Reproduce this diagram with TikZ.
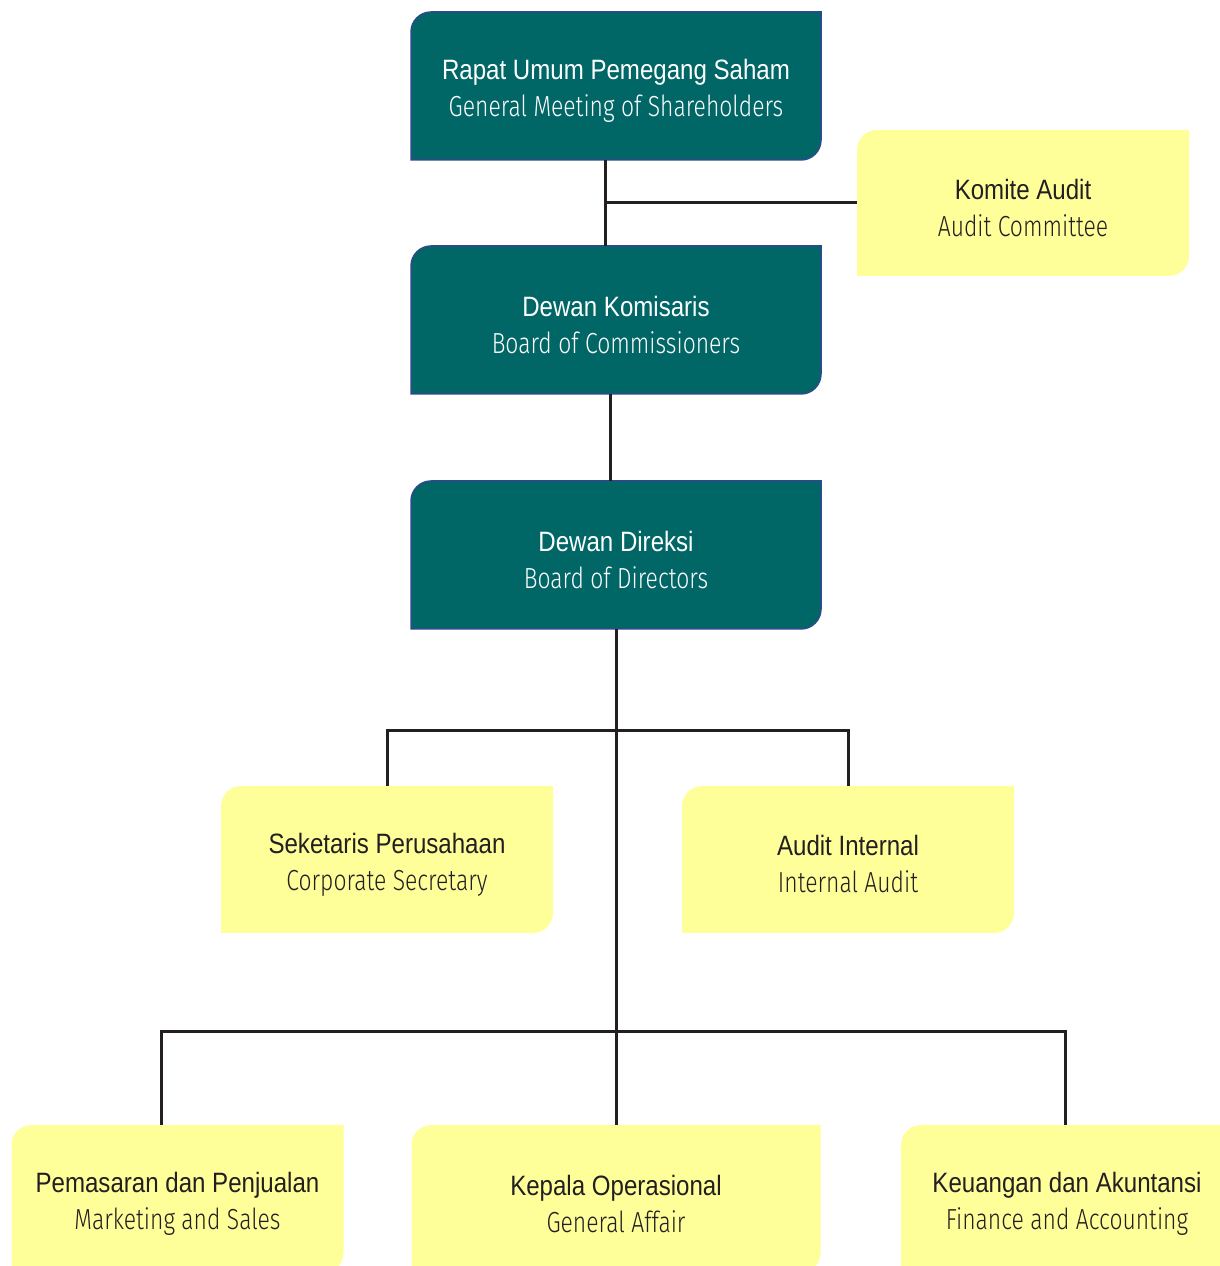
\documentclass[tikz,border=0pt]{standalone}
\usepackage{fontspec}
\setmainfont[FakeStretch=0.86]{Liberation Sans}
\newfontfamily\lightfont[FakeStretch=0.79]{Fira Sans Light}
\usepackage{tikz}
\usetikzlibrary{backgrounds}
\definecolor{tealfill}{RGB}{0,102,102}
\definecolor{tealedge}{RGB}{46,74,140}
\definecolor{paleyellow}{RGB}{255,255,153}
\definecolor{inkline}{RGB}{35,31,32}
\newcommand{\orgshape}[2]{%
  \path[#1] (#2.south west) -- ([yshift=-20pt]#2.north west)
    arc[start angle=180, end angle=90, radius=20pt] -- (#2.north east)
    -- ([yshift=20pt]#2.south east)
    arc[start angle=0, end angle=-90, radius=20pt] -- cycle;}
\newcommand{\orgtext}[2]{\rule{0pt}{30pt}#1\\{\lightfont\fontsize{29}{37}\selectfont #2}}

\begin{document}
\begin{tikzpicture}[x=1pt, y=1pt,
    box/.style={inner sep=0pt, outer sep=0pt, align=center, font=\fontsize{28}{37}\selectfont},
    board/.style={box, minimum width=410pt, minimum height=148pt, text=white},
    unit/.style={box, minimum width=332pt, minimum height=147pt, text=inkline},
    link/.style={draw=inkline, line width=3pt}]
                  \useasboundingbox (0, 0) rectangle (1219, 1266);

                  \node[board] (rups) at (616, 1180) {\orgtext{Rapat Umum Pemegang Saham}{General Meeting of Shareholders}};
                  \node[board] (dk) at (616, 946) {\orgtext{Dewan Komisaris}{Board of Commissioners}};
                  \node[board] (dd) at (616, 711) {\orgtext{Dewan Direksi}{Board of Directors}};

                  \node[unit, minimum height=146pt] (komite) at (1023, 1063) {\orgtext{Komite Audit}{Audit Committee}};

                  \node[unit] (sekretaris) at (387, 406.5) {\orgtext{Seketaris Perusahaan}{Corporate Secretary}};
                  \node[unit] (internal) at (848, 406.5) {\orgtext{Audit Internal}{Internal Audit}};

                  \node[unit, minimum height=148pt] (pemasaran) at (177.5, 67) {\orgtext{Pemasaran dan Penjualan}{Marketing and Sales}};
                  \node[unit, minimum width=409pt, minimum height=148pt] (kepala) at (616, 67) {\orgtext{Kepala Operasional}{General Affair}};
                  \node[unit, minimum height=148pt] (keuangan) at (1067, 67) {\orgtext{Keuangan dan Akuntansi}{Finance and Accounting}};

                  \begin{scope}[on background layer]
                          \foreach \n in {rups, dk, dd} {
                                  \orgshape{fill=tealfill, draw=tealedge, line width=1.5pt}{\n}
                              }
                          \foreach \n in {komite, sekretaris, internal, pemasaran, kepala, keuangan} {
                                  \orgshape{fill=paleyellow}{\n}
                              }
                  \end{scope}

                  \draw[link] ([xshift=-11pt]rups.south) -- coordinate[pos=0.5] (tee) ([xshift=-11pt]dk.north);
                  \draw[link] (tee) -- (komite.west);
                  \draw[link] ([xshift=-6pt]dk.south) -- ([xshift=-6pt]dd.north);
                  \draw[link] (dd.south) -- (kepala.north);

                  \draw[link] (sekretaris.north) -- ++(0, 55) -| (internal.north);
                  \draw[link] ([xshift=-16pt]pemasaran.north) -- ++(0, 93) -| ([xshift=-2pt]keuangan.north);
              \end{tikzpicture}
\end{document}
